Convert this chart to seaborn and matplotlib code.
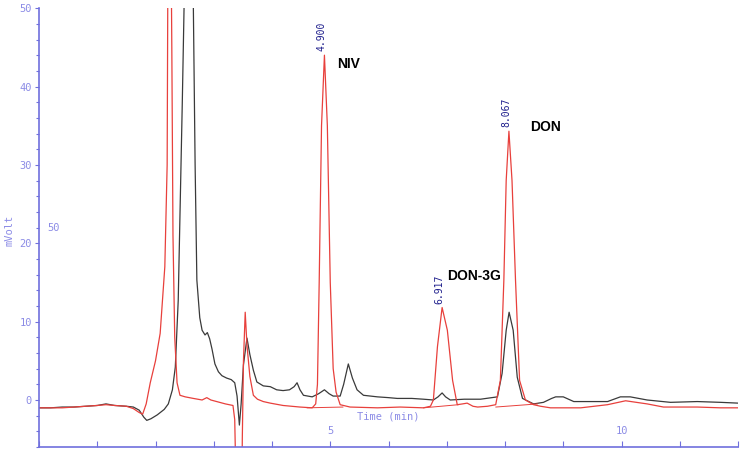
import numpy as np
import pandas as pd
import matplotlib
matplotlib.use("Agg")
import matplotlib.pyplot as plt
from matplotlib.ticker import MultipleLocator, FixedLocator
import seaborn as sns

# black trace (time in min, signal in mVolt)
black_t = [0.00, 0.20, 0.40, 0.60, 0.80, 1.00, 1.15, 1.30, 1.50, 1.62, 1.72, 1.80, 1.85, 1.92,
           2.03, 2.15, 2.22, 2.29, 2.34, 2.39, 2.46, 2.49, 2.55, 2.62, 2.65, 2.68, 2.71, 2.76,
           2.80, 2.85, 2.89, 2.93, 2.97, 3.02, 3.08, 3.14, 3.22, 3.30, 3.36, 3.40, 3.44, 3.47,
           3.51, 3.57, 3.62, 3.68, 3.74, 3.85, 3.97, 4.08, 4.19, 4.30, 4.38, 4.43, 4.48, 4.54,
           4.69, 4.80, 4.90, 4.98, 5.05, 5.17, 5.23, 5.31, 5.38, 5.46, 5.57, 5.81, 6.00, 6.15,
           6.40, 6.60, 6.77, 6.85, 6.92, 6.98, 7.06, 7.30, 7.58, 7.87, 7.95, 8.02, 8.07, 8.14,
           8.21, 8.30, 8.49, 8.66, 8.80, 8.87, 9.00, 9.18, 9.50, 9.76, 9.98, 10.15, 10.44,
           10.84, 11.30, 11.70, 12.00]
black_v = [-1.0, -1.0, -0.9, -0.9, -0.8, -0.7, -0.5, -0.7, -0.8, -0.9, -1.3, -2.2, -2.6, -2.4,
           -1.9, -1.2, -0.5, 1.3, 4.2, 12.7, 38.0, 50.0, 62.0, 60.0, 50.0, 30.0, 15.3, 10.5,
           8.9, 8.3, 8.6, 7.8, 6.5, 4.6, 3.6, 3.1, 2.8, 2.6, 2.2, 0.5, -3.2, -0.5,
           4.5, 7.9, 5.8, 3.8, 2.3, 1.8, 1.7, 1.3, 1.2, 1.3, 1.7, 2.2, 1.3, 0.6,
           0.4, 0.8, 1.3, 0.8, 0.5, 0.5, 2.0, 4.6, 2.8, 1.3, 0.6, 0.4, 0.3, 0.2,
           0.2, 0.1, 0.0, 0.4, 0.9, 0.4, 0.0, 0.1, 0.1, 0.4, 3.4, 8.9, 11.2, 8.9,
           2.9, 0.2, -0.5, -0.3, 0.2, 0.4, 0.4, -0.2, -0.2, -0.2, 0.4, 0.4, 0.0,
           -0.3, -0.2, -0.3, -0.4]

# red trace
red_t = [0.00, 0.20, 0.40, 0.60, 0.80, 1.00, 1.15, 1.30, 1.50, 1.62, 1.72, 1.78, 1.84, 1.91,
         2.00, 2.08, 2.16, 2.20, 2.21, 2.24, 2.27, 2.28, 2.30, 2.33, 2.37, 2.42, 2.51, 2.65,
         2.80, 2.88, 2.95, 3.05, 3.20, 3.33, 3.36, 3.38, 3.39, 3.47, 3.49, 3.51, 3.54, 3.57,
         3.62, 3.68, 3.75, 3.85, 3.97, 4.19, 4.48, 4.69, 4.75, 4.78, 4.81, 4.85, 4.90, 4.95,
         5.00, 5.05, 5.10, 5.17, 5.34, 5.81, 6.20, 6.60, 6.72, 6.77, 6.84, 6.92, 7.01, 7.10,
         7.18, 7.27, 7.35, 7.45, 7.53, 7.70, 7.84, 7.92, 7.98, 8.02, 8.067, 8.12, 8.18, 8.25,
         8.35, 8.49, 8.61, 8.78, 9.30, 9.76, 10.07, 10.44, 10.72, 11.30, 11.70, 12.00]
red_v = [-1.0, -1.0, -1.0, -0.9, -0.8, -0.7, -0.6, -0.7, -0.8, -1.1, -1.6, -1.8, -0.5, 2.2,
         5.0, 8.5, 17.0, 30.0, 50.0, 62.0, 55.0, 45.0, 21.0, 8.0, 2.2, 0.6, 0.4, 0.2,
         0.0, 0.3, 0.0, -0.2, -0.5, -0.7, -2.5, -10.0, -25.0, -25.0, -5.0, 5.0, 11.2, 7.0,
         3.0, 0.6, 0.1, -0.2, -0.4, -0.7, -0.9, -1.0, -0.5, 2.0, 15.0, 35.0, 44.0, 35.0,
         15.0, 4.0, 1.0, -0.6, -0.9, -1.0, -0.9, -1.0, -0.8, 0.0, 6.8, 11.8, 8.9, 2.5,
         -0.6, -0.5, -0.4, -0.8, -0.9, -0.8, -0.6, 2.5, 15.3, 28.0, 34.3, 28.0, 15.3, 2.5,
         0.0, -0.6, -0.8, -1.0, -1.0, -0.6, -0.1, -0.5, -0.9, -0.9, -1.0, -1.0]

# integration baselines drawn under the red peaks
base_t0 = [4.60, 6.60, 7.84]
base_v0 = [-1.0, -1.0, -0.9]
base_t1 = [5.22, 7.20, 8.56]
base_v1 = [-0.9, -0.6, -0.5]

peak_times = [4.900, 6.917, 8.067]
peak_heights = [44.0, 11.8, 34.3]
peak_names = ["NIV", "DON-3G", "DON"]

sns.set_theme(style="white")
plt.rcParams["font.family"] = ["DejaVu Sans"]

axis_blue = "#7070dd"
label_blue = "#8c8ce6"
red = "#e8403c"
black = "#3a3a3a"

fig = plt.figure(figsize=(7.47, 4.54), dpi=100)
ax = fig.add_axes([0.0522, 0.0154, 0.9358, 0.9666])

black_df = pd.DataFrame({"t": black_t, "v": black_v})
red_df = pd.DataFrame({"t": red_t, "v": red_v})

sns.lineplot(data=black_df, x="t", y="v", color=black, lw=0.9, estimator=None, ax=ax)
sns.lineplot(data=red_df, x="t", y="v", color=red, lw=0.9, estimator=None, ax=ax)

for t0, v0, t1, v1 in zip(base_t0, base_v0, base_t1, base_v1):
    ax.plot([t0, t1], [v0, v1], color=red, lw=0.7)

# retention time labels and compound names
name_dx = [0.22, 0.09, 0.37]
name_dy = [-1.1, 4.0, 0.5]
for t, h, name, dx, dy in zip(peak_times, peak_heights, peak_names, name_dx, name_dy):
    ax.text(t - 0.05, h + 0.5, f"{t:.3f}", rotation=90, ha="center", va="bottom",
            fontsize=7, color="#1e1e8c", family="DejaVu Sans Mono")
    ax.text(t + dx, h + dy, name, ha="left", va="center", fontsize=10,
            fontweight="bold", color="black", family="Liberation Sans")

ax.text(0.15, 21.9, "50", fontsize=7.5, color=label_blue, va="center",
        family="DejaVu Sans Mono")

ax.set_xlim(0, 12)
ax.set_ylim(-6, 50)

ax.yaxis.set_minor_locator(MultipleLocator(2))
ax.xaxis.set_minor_locator(MultipleLocator(1))
ax.set_yticks([0, 10, 20, 30, 40, 50])
ax.set_yticklabels(["0", "10", "20", "30", "40", "50"])
ax.set_xticks([5, 10])
ax.set_xticklabels(["5", "10"])

ax.tick_params(axis="y", which="both", direction="out", colors=axis_blue,
               labelcolor=label_blue, labelsize=7.5, length=3, width=0.8, pad=2,
               left=True)
ax.tick_params(axis="y", which="minor", length=2)
ax.tick_params(axis="x", which="both", direction="in", colors=axis_blue,
               labelcolor=label_blue, labelsize=7.5, length=4, width=0.8, pad=-15,
               bottom=True)
for lbl in ax.get_yticklabels() + ax.get_xticklabels():
    lbl.set_family("DejaVu Sans Mono")

ax.set_xlabel("Time (min)", fontsize=7.5, color=label_blue, family="DejaVu Sans Mono")
ax.xaxis.set_label_coords(0.5, 0.08)
ax.set_ylabel("mVolt", fontsize=7.5, color=label_blue, family="DejaVu Sans Mono")
ax.yaxis.set_label_coords(-0.035, 0.494)

sns.despine(ax=ax)
for side in ["left", "bottom"]:
    ax.spines[side].set_color(axis_blue)
    ax.spines[side].set_linewidth(1.2)

ax.grid(False)
fig.savefig("out.png", dpi=100)
